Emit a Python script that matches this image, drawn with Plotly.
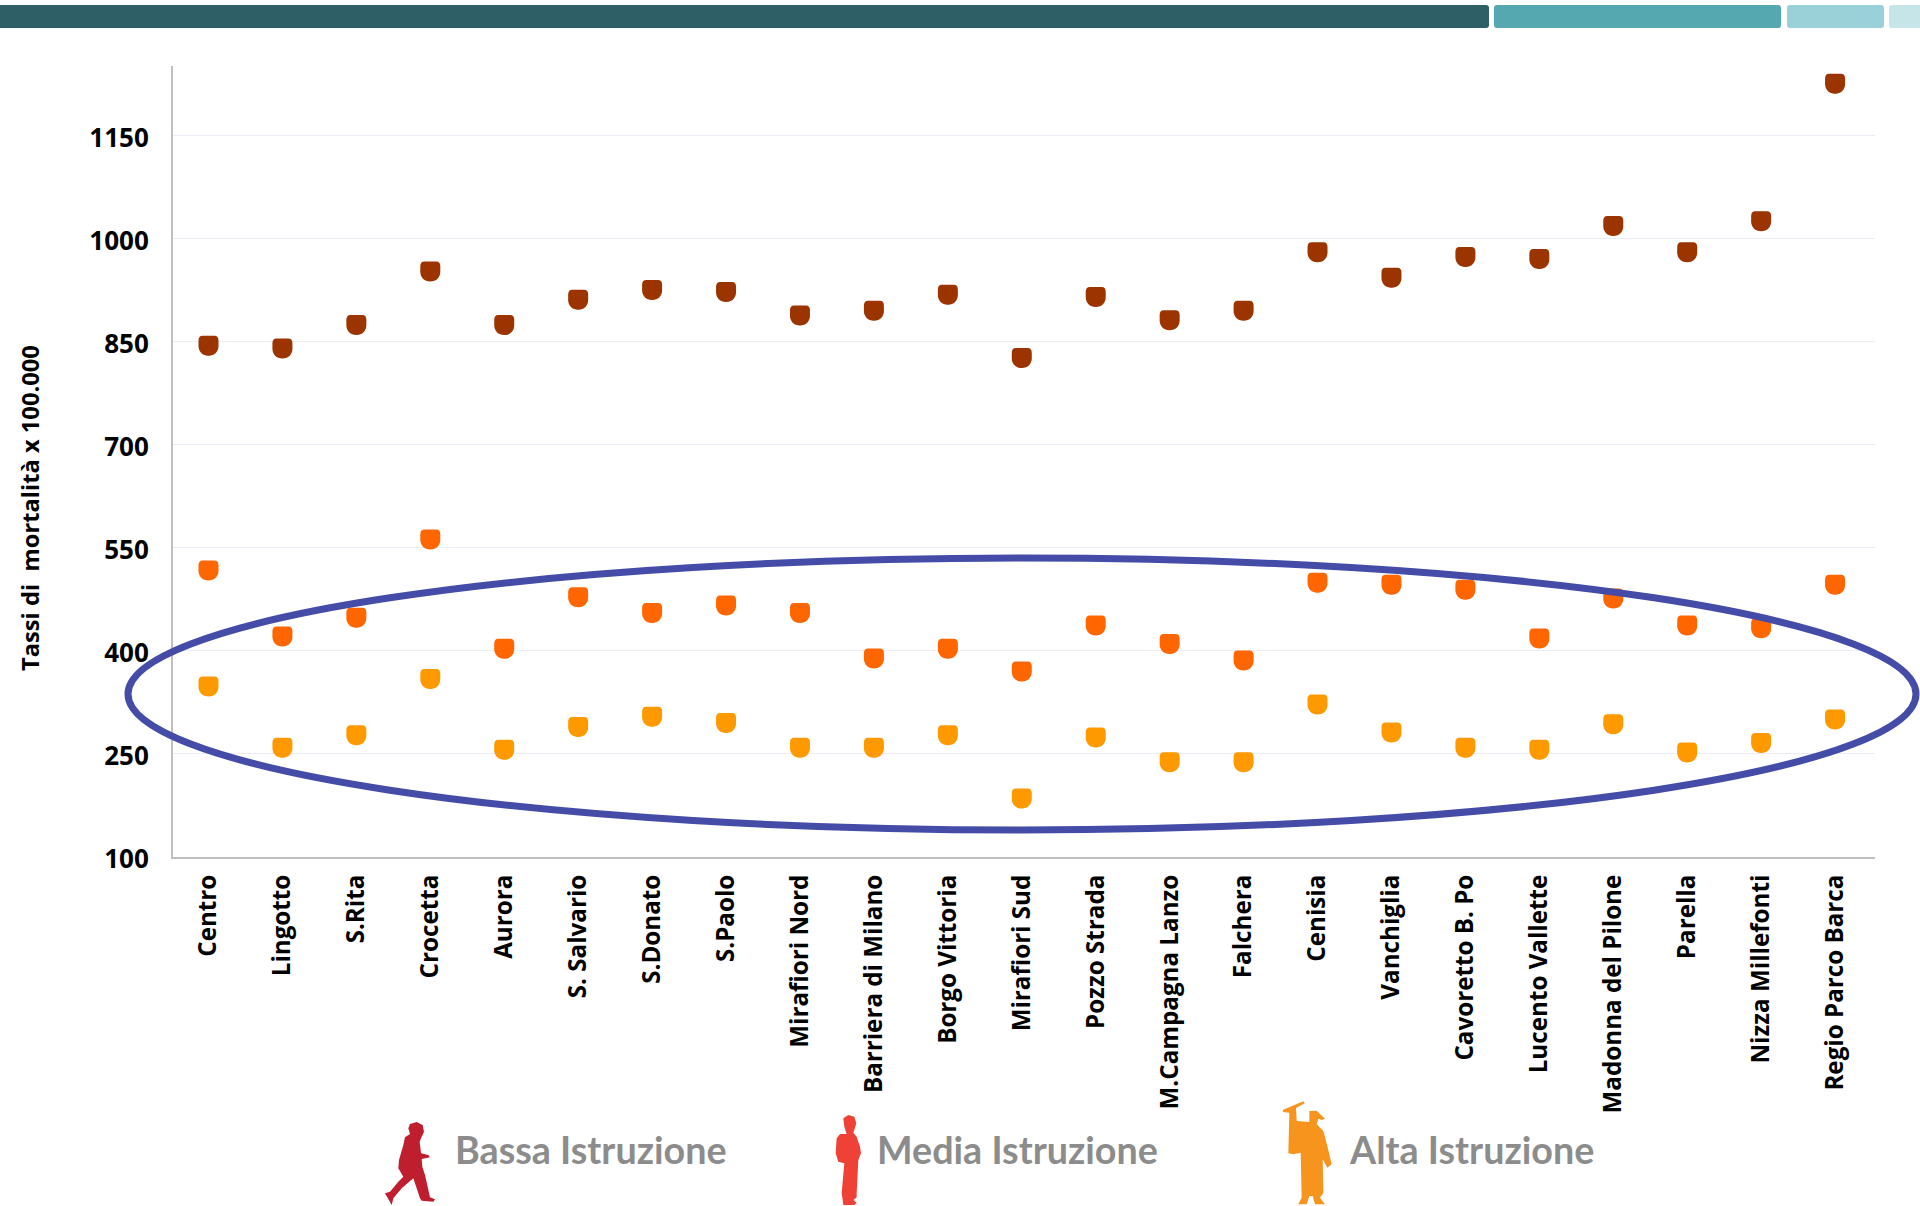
import plotly.graph_objects as go

categories = ["Centro", "Lingotto", "S.Rita", "Crocetta", "Aurora", "S. Salvario", "S.Donato", "S.Paolo",
              "Mirafiori Nord", "Barriera di Milano", "Borgo Vittoria", "Mirafiori Sud", "Pozzo Strada",
              "M.Campagna Lanzo", "Falchera", "Cenisia", "Vanchiglia", "Cavoretto B. Po", "Lucento Vallette",
              "Madonna del Pilone", "Parella", "Nizza Millefonti", "Regio Parco Barca"]
bassa = [844, 840, 874, 952, 874, 911, 925, 922, 888, 895, 918, 826, 915, 881, 895, 980, 943, 973, 970, 1018, 980, 1025, 1225]
media = [517, 421, 448, 562, 403, 478, 455, 466, 455, 389, 403, 370, 437, 410, 386, 499, 496, 489, 418, 476, 437, 433, 496]
alta = [348, 259, 277, 359, 256, 289, 304, 295, 259, 259, 277, 185, 274, 238, 238, 322, 281, 259, 256, 293, 252, 266, 300]
y_ticks = [100, 250, 400, 550, 700, 850, 1000, 1150]
series_names = ["Bassa Istruzione", "Media Istruzione", "Alta Istruzione"]
series_colors = ["#9C3400", "#FF6600", "#FF9900"]
icon_colors = ["#BE1E2D", "#EF4136", "#F7941E"]

W, H = 1920, 1206
L, R, T, B = 173, 1875, 66, 857
FONT = "Open Sans"


def px(x):
    return (x - L) / (R - L)


def py(y):
    return (B - y) / (B - T)


def poly(points, ox, oy):
    pts = [(px(ox + a / 3), py(oy + b / 3)) for a, b in points]
    return "M " + " L ".join(f"{a:.5f} {b:.5f}" for a, b in pts) + " Z"


def rounded_bar(x0, x1, y0, y1, r):
    return (f"M {px(x0 + r):.5f} {py(y0):.5f} L {px(x1 - r):.5f} {py(y0):.5f} "
            f"Q {px(x1):.5f} {py(y0):.5f} {px(x1):.5f} {py(y0 + r):.5f} "
            f"L {px(x1):.5f} {py(y1 - r):.5f} Q {px(x1):.5f} {py(y1):.5f} {px(x1 - r):.5f} {py(y1):.5f} "
            f"L {px(x0 + r):.5f} {py(y1):.5f} Q {px(x0):.5f} {py(y1):.5f} {px(x0):.5f} {py(y1 - r):.5f} "
            f"L {px(x0):.5f} {py(y0 + r):.5f} Q {px(x0):.5f} {py(y0):.5f} {px(x0 + r):.5f} {py(y0):.5f} Z")


SHIELD = ("M -6 10 L 6 10 Q 10 10 10 5 L 10 0 C 10 -6 6 -10 0 -10 "
          "C -6 -10 -10 -6 -10 0 L -10 5 Q -10 10 -6 10 Z")

fig = go.Figure()
shapes = []

for name, vals, col in zip(series_names, [bassa, media, alta], series_colors):
    fig.add_trace(go.Scatter(x=categories, y=vals, mode="markers", name=name,
                             marker=dict(symbol="circle", size=19, color=col, line=dict(width=0)),
                             showlegend=False))
    for c, v in zip(categories, vals):
        shapes.append(dict(type="path", xref="x", yref="y", xsizemode="pixel", ysizemode="pixel",
                           xanchor=c, yanchor=v, path=SHIELD, fillcolor=col, line=dict(width=0),
                           layer="above"))

# header bars
for x0, x1, col in [(-6, 1489, "#2E5E66"), (1494, 1781, "#56A8B0"), (1787, 1884, "#9AD0D8"), (1889, 1926, "#C5E5E9")]:
    shapes.append(dict(type="path", xref="paper", yref="paper", path=rounded_bar(x0, x1, 5, 28, 3),
                       fillcolor=col, line=dict(width=0), layer="above"))

# ellipse
shapes.append(dict(type="circle", xref="paper", yref="paper", x0=px(128), x1=px(1916), y0=py(558), y1=py(830),
                   line=dict(color="#444CA8", width=7), fillcolor="rgba(0,0,0,0)", layer="above"))

# legend silhouettes
runner = [(105, 42), (125, 36), (143, 45), (147, 65), (138, 85), (134, 95), (138, 130), (160, 135), (165, 142),
          (140, 147), (142, 170), (150, 195), (165, 262), (180, 268), (175, 275), (140, 272), (135, 265), (115, 205),
          (80, 235), (55, 265), (50, 285), (30, 250), (45, 245), (70, 215), (85, 200), (70, 175), (72, 150), (85, 105),
          (90, 82), (105, 72), (100, 55)]
student = [(85, 25), (100, 15), (118, 20), (124, 40), (115, 68), (125, 80), (135, 110), (138, 130), (130, 150),
           (125, 250), (125, 262), (115, 270), (125, 278), (118, 285), (85, 285), (80, 248), (88, 160), (70, 155),
           (62, 130), (65, 85), (75, 72), (95, 72), (88, 50)]
graduate = [(38, 42), (100, 16), (104, 22), (78, 36), (80, 75), (118, 78), (118, 45), (140, 44), (165, 68), (155, 72),
            (145, 68), (140, 85), (160, 105), (172, 150), (185, 205), (172, 215), (158, 190), (160, 290), (150, 305),
            (165, 325), (135, 325), (128, 300), (118, 300), (110, 325), (85, 325), (95, 305), (92, 170), (70, 175),
            (55, 172), (58, 50), (40, 48)]
for pts, ox, oy, col in [(runner, 375, 1110, icon_colors[0]), (student, 815, 1110, icon_colors[1]),
                         (graduate, 1270, 1096, icon_colors[2])]:
    shapes.append(dict(type="path", xref="paper", yref="paper", path=poly(pts, ox, oy), fillcolor=col,
                       line=dict(width=0), layer="above"))

annotations = [dict(text="Tassi di  mortalità x 100.000", xref="paper", yref="paper", x=px(30), y=py(508),
                    textangle=-90, showarrow=False, xanchor="center", yanchor="middle",
                    font=dict(family=FONT, size=23.7, color="#000000", weight="bold"))]
for name, x0 in zip(series_names, [452.5, 874.5, 1346.5]):
    annotations.append(dict(text=name, xref="paper", yref="paper", x=px(x0), y=py(1149.5), showarrow=False,
                            xanchor="left", yanchor="middle",
                            font=dict(family="Lato", size=37.7, color="#8C8C8C", weight="bold")))

fig.update_layout(
    width=W, height=H, margin=dict(l=L, r=W - R, t=T, b=H - B), autosize=False,
    paper_bgcolor="#FFFFFF", plot_bgcolor="#FFFFFF", shapes=shapes, annotations=annotations,
    showlegend=False,
    xaxis=dict(type="category", categoryorder="array", categoryarray=categories, range=[-0.48, 22.54],
               showgrid=False, showline=True, linecolor="#BFBFBF", linewidth=2, ticks="", tickangle=-90,
               ticklabelstandoff=6, tickfont=dict(family=FONT, size=24.2, color="#000000", weight="bold"), zeroline=False),
    yaxis=dict(range=[100, 1251], tickvals=y_ticks, ticktext=[str(v) for v in y_ticks], showgrid=True,
               gridcolor="#ECECF8", gridwidth=1, showline=True, linecolor="#BFBFBF", linewidth=2, ticks="",
               ticklabelstandoff=17, ticklabelshift=2,
               tickfont=dict(family=FONT, size=26, color="#000000", weight="bold"), zeroline=False),
)

fig.write_html("out.html", config=dict(displayModeBar=False),
               post_script="document.body.style.margin='0';document.body.style.overflow='hidden';")
